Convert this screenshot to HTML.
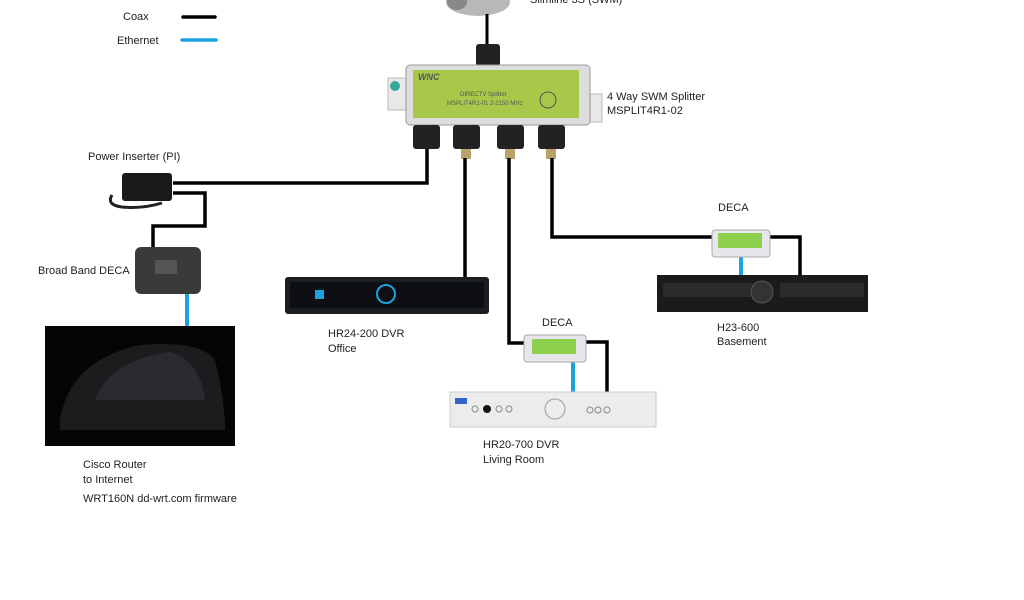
<!DOCTYPE html>
<html><head><meta charset="utf-8"><style>
html,body{margin:0;padding:0;background:#fff;}
svg{display:block;font-family:"Liberation Sans",sans-serif;}
text{font-size:11px;fill:#222;}
</style></head><body>
<svg width="1024" height="600" viewBox="0 0 1024 600" xmlns="http://www.w3.org/2000/svg">
<rect width="1024" height="600" fill="#fff"/>
<!-- legend -->
<text x="123" y="20">Coax</text>
<line x1="183" y1="17" x2="215" y2="17" stroke="#000" stroke-width="3.5" stroke-linecap="round"/>
<text x="117" y="44">Ethernet</text>
<line x1="182" y1="40" x2="216" y2="40" stroke="#1aa3dd" stroke-width="3.5" stroke-linecap="round"/>
<!-- dish -->
<ellipse cx="478" cy="2" rx="32" ry="14" fill="#b8b8b8"/>
<ellipse cx="457" cy="2" rx="10" ry="8" fill="#888"/>
<text x="530" y="3">Slimline 3S (SWM)</text>
<line x1="487" y1="14" x2="487" y2="48" stroke="#000" stroke-width="3"/>
<rect x="476" y="44" width="24" height="22" rx="3" fill="#222"/>
<!-- splitter -->
<rect x="388" y="78" width="24" height="32" fill="#e8e8e8" stroke="#bbb"/>
<rect x="578" y="94" width="24" height="28" fill="#e8e8e8" stroke="#bbb"/>
<circle cx="395" cy="86" r="5" fill="#3a9"/>
<circle cx="579" cy="112" r="5" fill="#3a9"/>
<rect x="406" y="65" width="184" height="60" rx="4" fill="#ddd" stroke="#999"/>
<rect x="413" y="70" width="166" height="48" fill="#a8c84a"/>
<text x="418" y="80" style="font-size:9px;fill:#555;font-style:italic;font-weight:bold">WNC</text>
<text x="460" y="96" style="font-size:6px;fill:#555">DIRECTV Splitter</text>
<text x="447" y="105" style="font-size:6px;fill:#555">MSPLIT4R1-01 2-2150 MHz</text>
<circle cx="548" cy="100" r="8" fill="none" stroke="#555"/>
<text x="607" y="100">4 Way SWM Splitter</text>
<text x="607" y="114">MSPLIT4R1-02</text>
<rect x="413" y="125" width="27" height="24" rx="3" fill="#222"/>
<rect x="453" y="125" width="27" height="24" rx="3" fill="#222"/>
<rect x="497" y="125" width="27" height="24" rx="3" fill="#222"/>
<rect x="538" y="125" width="27" height="24" rx="3" fill="#222"/>
<rect x="461" y="149" width="10" height="10" fill="#b9a36a"/>
<rect x="505" y="149" width="10" height="10" fill="#b9a36a"/>
<rect x="546" y="149" width="10" height="10" fill="#b9a36a"/>
<!-- coax -->
<g stroke="#000" stroke-width="3.5" fill="none">
<polyline points="427,149 427,183 173,183"/>
<polyline points="173,193 205,193 205,226 153,226 153,248"/>
<polyline points="465,158 465,278"/>
<polyline points="509,158 509,343 527,343"/>
<polyline points="552,158 552,237 712,237"/>
<polyline points="770,237 800,237 800,276"/>
<polyline points="586,342 607,342 607,393"/>
</g>
<!-- ethernet -->
<g stroke="#1aa3dd" stroke-width="4" fill="none">
<line x1="187" y1="293" x2="187" y2="327"/>
<line x1="741" y1="256" x2="741" y2="277"/>
<line x1="573" y1="361" x2="573" y2="393"/>
</g>
<!-- PI -->
<text x="88" y="160">Power Inserter (PI)</text>
<rect x="122" y="173" width="50" height="28" rx="3" fill="#1a1a1a"/>
<path d="M112 195 q-6 10 10 12 q20 2 40 -4" stroke="#222" stroke-width="3" fill="none"/>
<!-- broadband deca -->
<text x="38" y="274">Broad Band DECA</text>
<rect x="135" y="247" width="66" height="47" rx="6" fill="#3a3a3a"/>
<rect x="155" y="260" width="22" height="14" fill="#555"/>
<!-- router -->
<rect x="45" y="326" width="190" height="120" fill="#050505"/>
<path d="M60 420 Q70 360 140 345 Q200 340 215 360 Q225 400 225 430 L60 430 Z" fill="#1c1c1f"/>
<path d="M95 400 Q110 360 170 352 Q200 360 205 400 Z" fill="#2a2a30"/>
<text x="83" y="468">Cisco Router</text>
<text x="83" y="483">to Internet</text>
<text x="83" y="502">WRT160N dd-wrt.com firmware</text>
<!-- office dvr -->
<rect x="285" y="277" width="204" height="37" rx="3" fill="#1a1d22"/>
<rect x="290" y="282" width="194" height="26" fill="#0d0f13"/>
<circle cx="386" cy="294" r="9" fill="none" stroke="#1aa3dd" stroke-width="2"/>
<rect x="315" y="290" width="9" height="9" fill="#1aa3dd"/>
<text x="328" y="337">HR24-200 DVR</text>
<text x="328" y="352">Office</text>
<!-- DECA right -->
<text x="718" y="211">DECA</text>
<rect x="712" y="230" width="58" height="27" rx="3" fill="#e6e6ec" stroke="#aaa"/>
<rect x="718" y="233" width="44" height="15" fill="#8fd14f"/>
<!-- H23 -->
<rect x="657" y="275" width="211" height="37" fill="#1b1b1b"/>
<rect x="663" y="283" width="90" height="14" fill="#2b2b2b"/>
<rect x="780" y="283" width="84" height="14" fill="#2b2b2b"/>
<circle cx="762" cy="292" r="11" fill="#333" stroke="#555"/>
<text x="717" y="331">H23-600</text>
<text x="717" y="345">Basement</text>
<!-- DECA living -->
<text x="542" y="326">DECA</text>
<rect x="524" y="335" width="62" height="27" rx="3" fill="#e6e6ec" stroke="#aaa"/>
<rect x="532" y="339" width="44" height="15" fill="#8fd14f"/>
<!-- HR20 -->
<rect x="450" y="392" width="206" height="35" fill="#ececec" stroke="#ccc"/>
<rect x="455" y="398" width="12" height="6" fill="#36c"/>
<circle cx="487" cy="409" r="4" fill="#111"/>
<circle cx="475" cy="409" r="3" fill="none" stroke="#888"/>
<circle cx="499" cy="409" r="3" fill="none" stroke="#888"/>
<circle cx="509" cy="409" r="3" fill="none" stroke="#888"/>
<circle cx="555" cy="409" r="10" fill="none" stroke="#999"/>
<circle cx="590" cy="410" r="3" fill="none" stroke="#888"/>
<circle cx="598" cy="410" r="3" fill="none" stroke="#888"/>
<circle cx="607" cy="410" r="3" fill="none" stroke="#888"/>
<text x="483" y="448">HR20-700 DVR</text>
<text x="483" y="463">Living Room</text>
</svg>
</body></html>
